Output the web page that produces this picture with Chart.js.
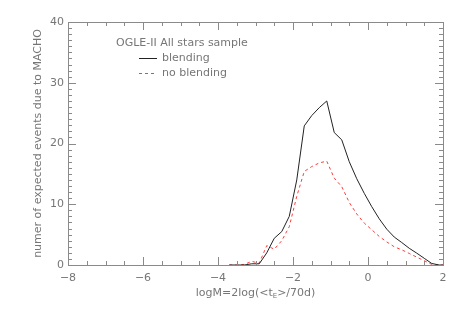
<!DOCTYPE html>
<html>
<head>
<meta charset="utf-8">
<script src="https://cdn.jsdelivr.net/npm/chart.js@4"></script>
<style>
  html, body { margin: 0; padding: 0; background: #fff; }
  #wrap { width: 463px; height: 309px; }
</style>
</head>
<body>
<div id="wrap"><canvas id="c" width="463" height="309"></canvas></div>
<script>
// logM grid (step 0.2) and values
const logM = [-3.7, -3.5, -3.3, -3.1, -2.9, -2.7, -2.5, -2.3, -2.1, -1.9, -1.7, -1.5, -1.3, -1.1,
              -0.9, -0.7, -0.5, -0.3, -0.1, 0.1, 0.3, 0.5, 0.7, 0.9, 1.1, 1.3, 1.5, 1.7, 1.9, 2.0];
const blending = [0, 0, 0, 0.2, 0.2, 2.0, 4.4, 5.5, 8.0, 14.0, 22.9, 24.6, 25.9, 27.0,
                  21.8, 20.6, 17.0, 14.2, 11.8, 9.6, 7.6, 5.9, 4.6, 3.7, 2.75, 1.95, 1.1, 0.25, 0, 0];
const noBlending = [0, 0, 0.1, 0.6, 0.3, 3.2, 2.6, 4.0, 6.3, 11.3, 15.4, 16.2, 16.8, 17.1,
                    14.3, 12.9, 10.3, 8.4, 6.9, 5.8, 4.7, 3.8, 3.0, 2.5, 1.9, 1.3, 0.7, 0.1, 0, 0];

const xMajor = [-8, -6, -4, -2, 0, 2];
const yMajor = [0, 10, 20, 30, 40];
const xMinorStep = 0.5;
const yMinorStep = 1;

const legendTitle = 'OGLE-II All stars sample';
const seriesNames = ['blending', 'no blending'];
const yTitle = 'numer of expected events due to MACHO';

const AXIS = '#8a8a8a';
const TEXT = '#767676';
const FONT = '"DejaVu Sans", sans-serif';

const pts = ys => logM.map((x, i) => ({ x, y: ys[i] }));

// ── Frame, ticks, titles, legend ─────────────────────────────────────────
const framePlugin = {
  id: 'frame',
  afterDraw(chart) {
    const { ctx, chartArea: a, scales: { x, y } } = chart;
    ctx.save();
    ctx.strokeStyle = AXIS;
    ctx.lineWidth = 1;
    ctx.strokeRect(a.left + 0.5, a.top + 0.5, a.right - a.left, a.bottom - a.top);

    ctx.beginPath();
    for (let v = -8; v <= 2.001; v += xMinorStep) {
      const px = Math.round(x.getPixelForValue(v)) + 0.5;
      const len = xMajor.some(m => Math.abs(m - v) < 1e-6) ? 8 : 4;
      ctx.moveTo(px, a.bottom); ctx.lineTo(px, a.bottom - len);
      ctx.moveTo(px, a.top);    ctx.lineTo(px, a.top + len);
    }
    for (let v = 0; v <= 40.001; v += yMinorStep) {
      const py = Math.round(y.getPixelForValue(v)) + 0.5;
      const len = yMajor.some(m => Math.abs(m - v) < 1e-6) ? 8 : 4;
      ctx.moveTo(a.left, py);  ctx.lineTo(a.left + len, py);
      ctx.moveTo(a.right, py); ctx.lineTo(a.right - len, py);
    }
    ctx.stroke();

    // y title
    ctx.fillStyle = TEXT;
    ctx.font = '11px ' + FONT;
    ctx.textAlign = 'center';
    ctx.textBaseline = 'middle';
    ctx.save();
    ctx.translate(38, (a.top + a.bottom) / 2);
    ctx.rotate(-Math.PI / 2);
    ctx.fillText(yTitle, 0, 0);
    ctx.restore();

    // x title with subscript
    const parts = ['logM=2log(<t', 'E', '>/70d)'];
    ctx.textAlign = 'left';
    ctx.font = '11px ' + FONT;
    const w0 = ctx.measureText(parts[0]).width;
    const w2 = ctx.measureText(parts[2]).width;
    ctx.font = '7px ' + FONT;
    const w1 = ctx.measureText(parts[1]).width;
    let tx = (a.left + a.right) / 2 - (w0 + w1 + w2) / 2;
    const ty = 293;
    ctx.font = '11px ' + FONT;
    ctx.fillText(parts[0], tx, ty); tx += w0;
    ctx.font = '7px ' + FONT;
    ctx.fillText(parts[1], tx, ty + 3); tx += w1;
    ctx.font = '11px ' + FONT;
    ctx.fillText(parts[2], tx, ty);

    // legend
    ctx.fillText(legendTitle, 116, 43);
    ctx.fillText(seriesNames[0], 162, 58);
    ctx.fillText(seriesNames[1], 162, 73);
    ctx.lineWidth = 1;
    ctx.strokeStyle = '#222';
    ctx.beginPath(); ctx.moveTo(139, 58.5); ctx.lineTo(157, 58.5); ctx.stroke();
    ctx.strokeStyle = '#ff3b3b';
    ctx.setLineDash([3, 3]);
    ctx.beginPath(); ctx.moveTo(139, 73.5); ctx.lineTo(157, 73.5); ctx.stroke();
    ctx.restore();
  }
};

new Chart(document.getElementById('c'), {
  type: 'line',
  data: {
    datasets: [
      { label: seriesNames[0], data: pts(blending), borderColor: '#222', borderWidth: 1,
        pointRadius: 0, tension: 0 },
      { label: seriesNames[1], data: pts(noBlending), borderColor: '#ff3b3b', borderWidth: 1,
        borderDash: [3, 3], pointRadius: 0, tension: 0 },
    ],
  },
  options: {
    responsive: false,
    animation: false,
    layout: { padding: { top: 22, right: 20, left: 0, bottom: 0 } },
    plugins: { legend: { display: false }, tooltip: { enabled: false } },
    scales: {
      x: {
        type: 'linear', min: -8, max: 2,
        afterBuildTicks: s => { s.ticks = xMajor.map(v => ({ value: v })); },
        afterFit: s => { s.height = 44; },
        grid: { display: false, drawTicks: false },
        border: { display: false },
        ticks: { color: TEXT, font: { family: FONT, size: 11 }, padding: 7,
                 callback: v => String(v).replace('-', '\u2212') },
      },
      y: {
        min: 0, max: 40,
        afterBuildTicks: s => { s.ticks = yMajor.map(v => ({ value: v })); },
        afterFit: s => { s.width = 68; },
        grid: { display: false, drawTicks: false },
        border: { display: false },
        ticks: { color: TEXT, font: { family: FONT, size: 11 }, padding: 4 },
      },
    },
  },
  plugins: [framePlugin],
});
</script>
</body>
</html>
